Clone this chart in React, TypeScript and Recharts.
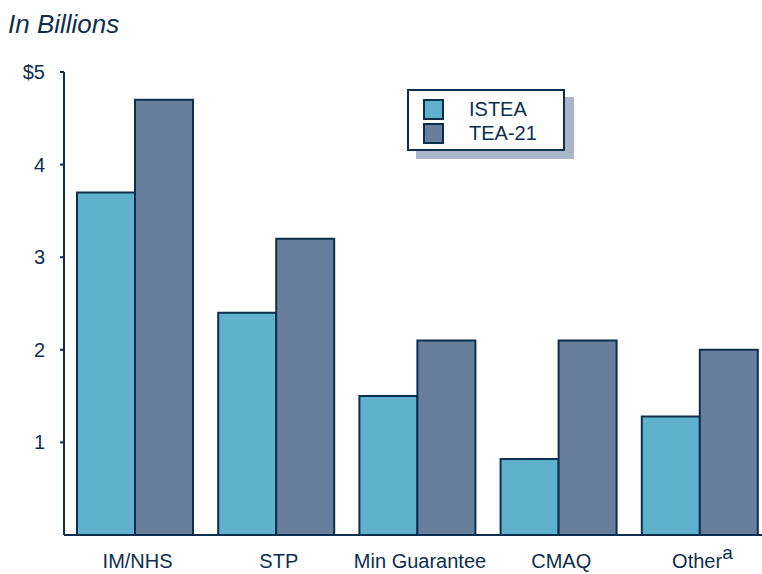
import React from "react"
import { Bar, BarChart, XAxis, YAxis } from "recharts"

const categories = ["IM/NHS", "STP", "Min Guarantee", "CMAQ", "Other"]
const istea = [3.7, 2.4, 1.5, 0.82, 1.28]
const tea21 = [4.7, 3.2, 2.1, 2.1, 2.0]
const yTicks = [1, 2, 3, 4, 5]

const NAVY = "#0d2f4f"
const ISTEA_COLOR = "#60b1cc"
const TEA_COLOR = "#687e9d"

const data = categories.map((name, i) => ({ name, istea: istea[i], tea21: tea21[i] }))

const font = "'Liberation Sans', Arial, sans-serif"

function XTick({ x, y, payload }: any) {
  const isOther = payload.value === "Other"
  return (
    <text x={x + 3} y={y + 25} textAnchor="middle" fill={NAVY} fontSize={20} fontFamily={font}>
      {payload.value}
      {isOther && (
        <tspan dy={-9} fontSize={19}>
          a
        </tspan>
      )}
    </text>
  )
}

function YTick({ x, y, payload }: any) {
  return (
    <text x={x - 13} y={y + 7} textAnchor="end" fill={NAVY} fontSize={20} fontFamily={font}>
      {payload.value === 5 ? "$5" : payload.value}
    </text>
  )
}

function LegendBox() {
  const items = [
    { label: "ISTEA", color: ISTEA_COLOR },
    { label: "TEA-21", color: TEA_COLOR },
  ]
  return (
    <div
      style={{
        position: "absolute",
        left: 407,
        top: 89,
        width: 158,
        height: 62,
        border: `2px solid ${NAVY}`,
        background: "#fff",
        boxShadow: "9px 8px 0 #a9b5c9",
        fontFamily: font,
        color: NAVY,
        fontSize: 20,
        paddingTop: 6,
        boxSizing: "border-box",
      }}
    >
      {items.map((it) => (
        <div key={it.label} style={{ display: "flex", alignItems: "center", height: 24 }}>
          <span
            style={{
              display: "inline-block",
              width: 17,
              height: 17,
              marginLeft: 14,
              marginRight: 25,
              background: it.color,
              border: `2px solid ${NAVY}`,
            }}
          />
          {it.label}
        </div>
      ))}
    </div>
  )
}

export default function App() {
  return (
    <div
      style={{
        position: "absolute",
        left: 0,
        top: 0,
        width: 762,
        height: 574,
        overflow: "hidden",
        background: "#fff",
      }}
    >
      <div
        style={{
          position: "absolute",
          left: 8,
          top: 9,
          fontFamily: font,
          fontStyle: "italic",
          fontSize: 26,
          lineHeight: "30px",
          color: NAVY,
        }}
      >
        In Billions
      </div>
      <BarChart
        width={770}
        height={574}
        data={data}
        margin={{ top: 72, right: 0, left: 0, bottom: 0 }}
        barCategoryGap={13}
        barGap={0}
      >
        <XAxis
          dataKey="name"
          height={39}
          tick={<XTick />}
          tickLine={false}
          axisLine={{ stroke: NAVY, strokeWidth: 2 }}
          interval={0}
        />
        <YAxis
          width={64}
          domain={[0, 5]}
          ticks={yTicks}
          tick={<YTick />}
          tickSize={4}
          tickLine={{ stroke: NAVY, strokeWidth: 2 }}
          axisLine={{ stroke: NAVY, strokeWidth: 2 }}
        />
        <Bar dataKey="istea" fill={ISTEA_COLOR} stroke={NAVY} strokeWidth={2} isAnimationActive={false} />
        <Bar dataKey="tea21" fill={TEA_COLOR} stroke={NAVY} strokeWidth={2} isAnimationActive={false} />
      </BarChart>
      <LegendBox />
    </div>
  )
}
